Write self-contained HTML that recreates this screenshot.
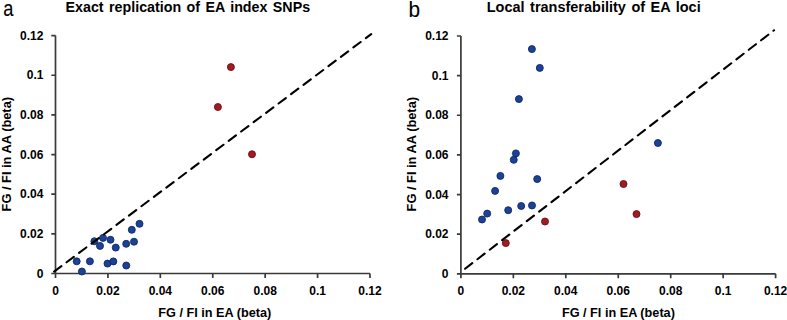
<!DOCTYPE html>
<html><head><meta charset="utf-8"><style>
html,body{margin:0;padding:0;background:#fff;}
svg{display:block;}
text{font-family:"Liberation Sans", sans-serif;fill:#000;}
.tl{font-size:12px;font-weight:bold;}
.al{font-size:13px;font-weight:bold;}
.tt{font-size:15.2px;font-weight:bold;word-spacing:1.6px;}
.pl{font-size:21.5px;stroke:#000;stroke-width:0.1px;}
</style></head><body>
<svg width="787" height="320" viewBox="0 0 787 320">
<rect width="787" height="320" fill="#fff"/>
<path d="M55.5,35.6 V278.0 M51.3,273.5 H370.0" stroke="#3a3a3a" stroke-width="1.7" fill="none"/>
<path d="M51.3,233.85 H55.5 M107.92,273.5 V278.0 M51.3,194.20 H55.5 M160.33,273.5 V278.0 M51.3,154.55 H55.5 M212.75,273.5 V278.0 M51.3,114.90 H55.5 M265.17,273.5 V278.0 M51.3,75.25 H55.5 M317.58,273.5 V278.0 M51.3,35.60 H55.5 M370.00,273.5 V278.0" stroke="#3a3a3a" stroke-width="1.7" fill="none"/>
<circle cx="76.7" cy="261.35" r="3.5" fill="#1d4196" stroke="#0f2868" stroke-width="0.9"/>
<circle cx="81.9" cy="271.5" r="3.5" fill="#1d4196" stroke="#0f2868" stroke-width="0.9"/>
<circle cx="89.9" cy="261.35" r="3.5" fill="#1d4196" stroke="#0f2868" stroke-width="0.9"/>
<circle cx="94.4" cy="241.25" r="3.5" fill="#1d4196" stroke="#0f2868" stroke-width="0.9"/>
<circle cx="103" cy="237.9" r="3.5" fill="#1d4196" stroke="#0f2868" stroke-width="0.9"/>
<circle cx="100" cy="245.9" r="3.5" fill="#1d4196" stroke="#0f2868" stroke-width="0.9"/>
<circle cx="110.5" cy="239.75" r="3.5" fill="#1d4196" stroke="#0f2868" stroke-width="0.9"/>
<circle cx="115.75" cy="247.6" r="3.5" fill="#1d4196" stroke="#0f2868" stroke-width="0.9"/>
<circle cx="107.5" cy="263.6" r="3.5" fill="#1d4196" stroke="#0f2868" stroke-width="0.9"/>
<circle cx="113.35" cy="261.4" r="3.5" fill="#1d4196" stroke="#0f2868" stroke-width="0.9"/>
<circle cx="126.25" cy="265.5" r="3.5" fill="#1d4196" stroke="#0f2868" stroke-width="0.9"/>
<circle cx="126.2" cy="243.8" r="3.5" fill="#1d4196" stroke="#0f2868" stroke-width="0.9"/>
<circle cx="134" cy="241.7" r="3.5" fill="#1d4196" stroke="#0f2868" stroke-width="0.9"/>
<circle cx="131.8" cy="229.8" r="3.5" fill="#1d4196" stroke="#0f2868" stroke-width="0.9"/>
<circle cx="139.5" cy="223.8" r="3.5" fill="#1d4196" stroke="#0f2868" stroke-width="0.9"/>
<circle cx="230.9" cy="67.1" r="3.5" fill="#a11b20" stroke="#6c1014" stroke-width="0.9"/>
<circle cx="217.9" cy="107.0" r="3.5" fill="#a11b20" stroke="#6c1014" stroke-width="0.9"/>
<circle cx="252.0" cy="154.25" r="3.5" fill="#a11b20" stroke="#6c1014" stroke-width="0.9"/>
<line x1="54.09" y1="271.62" x2="371.16" y2="34.13" stroke="#000" stroke-width="2.1" stroke-dasharray="9.1 6.48" stroke-linecap="round"/>
<text x="43.4" y="277.60" text-anchor="end" class="tl">0</text>
<text x="55.50" y="295" text-anchor="middle" class="tl">0</text>
<text x="43.4" y="237.95" text-anchor="end" class="tl">0.02</text>
<text x="107.92" y="295" text-anchor="middle" class="tl">0.02</text>
<text x="43.4" y="198.30" text-anchor="end" class="tl">0.04</text>
<text x="160.33" y="295" text-anchor="middle" class="tl">0.04</text>
<text x="43.4" y="158.65" text-anchor="end" class="tl">0.06</text>
<text x="212.75" y="295" text-anchor="middle" class="tl">0.06</text>
<text x="43.4" y="119.00" text-anchor="end" class="tl">0.08</text>
<text x="265.17" y="295" text-anchor="middle" class="tl">0.08</text>
<text x="43.4" y="79.35" text-anchor="end" class="tl">0.1</text>
<text x="317.58" y="295" text-anchor="middle" class="tl">0.1</text>
<text x="43.4" y="39.70" text-anchor="end" class="tl">0.12</text>
<text x="370.00" y="295" text-anchor="middle" class="tl">0.12</text>
<path d="M460.9,36.0 V278.3 M456.9,273.8 H775.6" stroke="#3a3a3a" stroke-width="1.7" fill="none"/>
<path d="M456.9,234.17 H460.9 M513.35,273.8 V278.3 M456.9,194.53 H460.9 M565.80,273.8 V278.3 M456.9,154.90 H460.9 M618.25,273.8 V278.3 M456.9,115.27 H460.9 M670.70,273.8 V278.3 M456.9,75.63 H460.9 M723.15,273.8 V278.3 M456.9,36.00 H460.9 M775.60,273.8 V278.3" stroke="#3a3a3a" stroke-width="1.7" fill="none"/>
<circle cx="531.9" cy="49.1" r="3.5" fill="#1d4196" stroke="#0f2868" stroke-width="0.9"/>
<circle cx="539.8" cy="67.9" r="3.5" fill="#1d4196" stroke="#0f2868" stroke-width="0.9"/>
<circle cx="518.9" cy="99.1" r="3.5" fill="#1d4196" stroke="#0f2868" stroke-width="0.9"/>
<circle cx="515.9" cy="153.4" r="3.5" fill="#1d4196" stroke="#0f2868" stroke-width="0.9"/>
<circle cx="513.75" cy="159.8" r="3.5" fill="#1d4196" stroke="#0f2868" stroke-width="0.9"/>
<circle cx="500.4" cy="175.9" r="3.5" fill="#1d4196" stroke="#0f2868" stroke-width="0.9"/>
<circle cx="495.1" cy="190.9" r="3.5" fill="#1d4196" stroke="#0f2868" stroke-width="0.9"/>
<circle cx="537.2" cy="179.1" r="3.5" fill="#1d4196" stroke="#0f2868" stroke-width="0.9"/>
<circle cx="487.2" cy="213.6" r="3.5" fill="#1d4196" stroke="#0f2868" stroke-width="0.9"/>
<circle cx="482" cy="219.5" r="3.5" fill="#1d4196" stroke="#0f2868" stroke-width="0.9"/>
<circle cx="508.2" cy="210.2" r="3.5" fill="#1d4196" stroke="#0f2868" stroke-width="0.9"/>
<circle cx="521.2" cy="206.0" r="3.5" fill="#1d4196" stroke="#0f2868" stroke-width="0.9"/>
<circle cx="532" cy="205.45" r="3.5" fill="#1d4196" stroke="#0f2868" stroke-width="0.9"/>
<circle cx="657.9" cy="143" r="3.5" fill="#1d4196" stroke="#0f2868" stroke-width="0.9"/>
<circle cx="505.8" cy="243.1" r="3.5" fill="#a11b20" stroke="#6c1014" stroke-width="0.9"/>
<circle cx="545" cy="221.5" r="3.5" fill="#a11b20" stroke="#6c1014" stroke-width="0.9"/>
<circle cx="623.5" cy="184" r="3.5" fill="#a11b20" stroke="#6c1014" stroke-width="0.9"/>
<circle cx="636.5" cy="214.1" r="3.5" fill="#a11b20" stroke="#6c1014" stroke-width="0.9"/>
<line x1="465.08" y1="268.76" x2="774.04" y2="30.26" stroke="#000" stroke-width="2.1" stroke-dasharray="9.1 6.48" stroke-linecap="round"/>
<text x="448.5" y="277.90" text-anchor="end" class="tl">0</text>
<text x="460.90" y="295" text-anchor="middle" class="tl">0</text>
<text x="448.5" y="238.27" text-anchor="end" class="tl">0.02</text>
<text x="513.35" y="295" text-anchor="middle" class="tl">0.02</text>
<text x="448.5" y="198.63" text-anchor="end" class="tl">0.04</text>
<text x="565.80" y="295" text-anchor="middle" class="tl">0.04</text>
<text x="448.5" y="159.00" text-anchor="end" class="tl">0.06</text>
<text x="618.25" y="295" text-anchor="middle" class="tl">0.06</text>
<text x="448.5" y="119.37" text-anchor="end" class="tl">0.08</text>
<text x="670.70" y="295" text-anchor="middle" class="tl">0.08</text>
<text x="448.5" y="79.73" text-anchor="end" class="tl">0.1</text>
<text x="723.15" y="295" text-anchor="middle" class="tl">0.1</text>
<text x="448.5" y="40.10" text-anchor="end" class="tl">0.12</text>
<text x="775.60" y="295" text-anchor="middle" class="tl">0.12</text>
<text transform="translate(3.3,15.5) scale(0.85,1)" class="pl">a</text>
<text transform="translate(408.6,16.8) scale(0.97,1)" class="pl">b</text>
<text x="65.6" y="12.4" class="tt" textLength="244.5" lengthAdjust="spacingAndGlyphs">Exact replication of EA index SNPs</text>
<text x="486.7" y="12.4" class="tt" textLength="214" lengthAdjust="spacingAndGlyphs">Local transferability of EA loci</text>
<text x="214.8" y="316.6" text-anchor="middle" class="al" textLength="113" lengthAdjust="spacingAndGlyphs">FG / FI in EA (beta)</text>
<text x="618.4" y="316.6" text-anchor="middle" class="al" textLength="113" lengthAdjust="spacingAndGlyphs">FG / FI in EA (beta)</text>
<text transform="translate(11.2,154.2) rotate(-90)" text-anchor="middle" class="al" textLength="114.5" lengthAdjust="spacingAndGlyphs">FG / FI in AA (beta)</text>
<text transform="translate(415.6,154.2) rotate(-90)" text-anchor="middle" class="al" textLength="114.5" lengthAdjust="spacingAndGlyphs">FG / FI in AA (beta)</text>
</svg>
</body></html>
